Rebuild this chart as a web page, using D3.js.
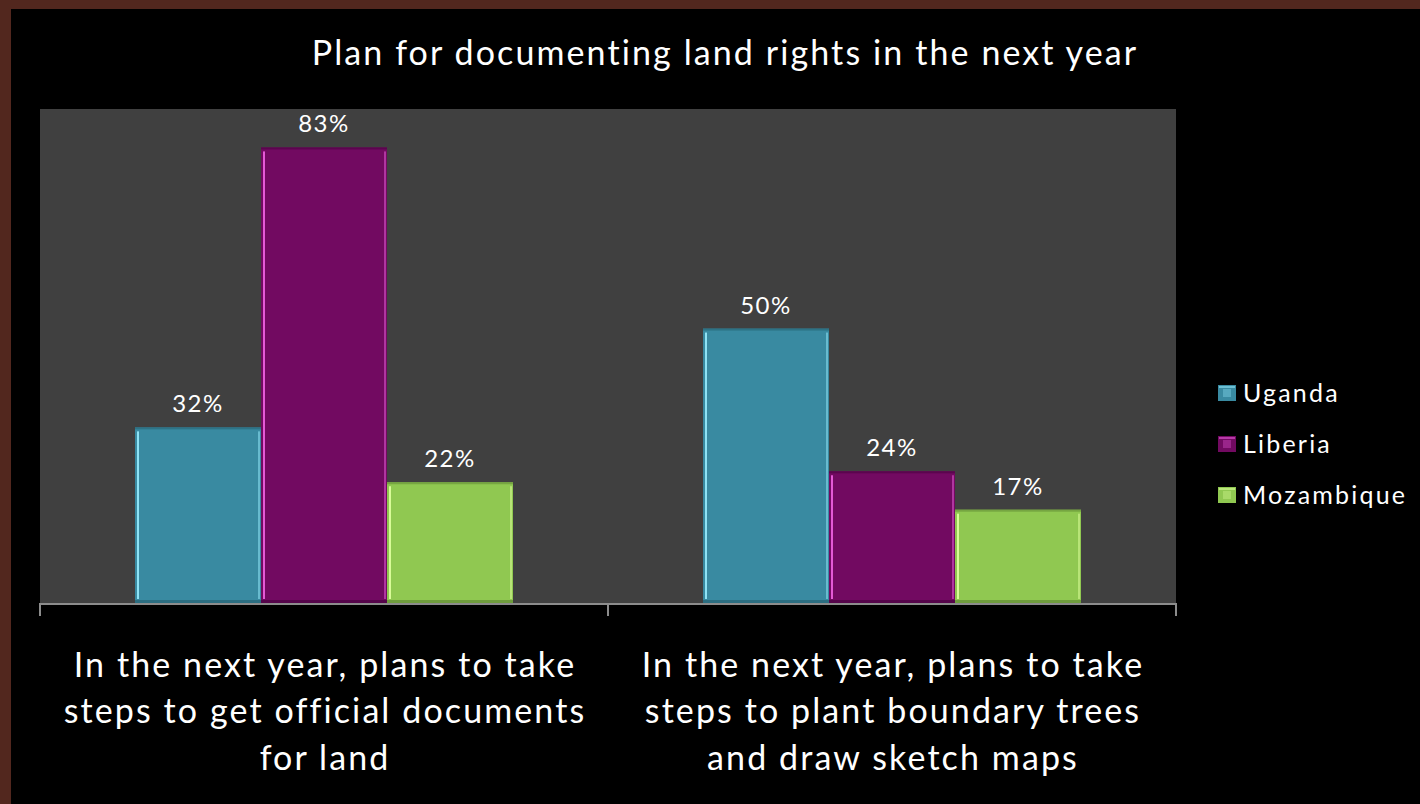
<!DOCTYPE html>
<html>
<head>
<meta charset="utf-8">
<script src="https://cdn.jsdelivr.net/npm/d3@7"></script>
<style>
  html, body { margin: 0; padding: 0; background: #000; }
  svg { display: block; }
  text { font-family: "Lato", "Open Sans", sans-serif; fill: #fff; }
</style>
</head>
<body>
<svg id="chart" width="1420" height="804"></svg>
<script>
// Survey shares by intention and country
const categories = [
  ["In the next year, plans to take", "steps to get official documents", "for land"],
  ["In the next year, plans to take", "steps to plant boundary trees", "and draw sketch maps"]
];
const series = ["Uganda", "Liberia", "Mozambique"];
const uganda = [0.32, 0.50];
const liberia = [0.83, 0.24];
const mozambique = [0.22, 0.17];
const seriesValues = [uganda, liberia, mozambique];
const yMax = 0.9;
const title = "Plan for documenting land rights in the next year";

const colors = { Uganda: "#398aa1", Liberia: "#720a61", Mozambique: "#90c851" };
const lights = { Uganda: "#8fe3f5", Liberia: "#e45ad6", Mozambique: "#d9fb98" };
const darks  = { Uganda: "#2b6d80", Liberia: "#55044a", Mozambique: "#6f9d3d" };

const W = 1420, H = 804;
const plot = { left: 40, right: 1176, top: 109, bottom: 603 };

const svg = d3.select("#chart");

// page frame
svg.append("rect").attr("width", W).attr("height", H).attr("fill", "#52271e");
svg.append("rect").attr("x", 11).attr("y", 9).attr("width", W - 11).attr("height", H - 9).attr("fill", "#000");

// plot background
svg.append("rect")
  .attr("x", plot.left).attr("y", plot.top)
  .attr("width", plot.right - plot.left).attr("height", plot.bottom - plot.top)
  .attr("fill", "#404040");

const catKeys = categories.map((c, i) => i);
const x0 = d3.scaleBand().domain(catKeys).range([plot.left, plot.right]).paddingInner(0).paddingOuter(0);
const x1 = d3.scaleBand().domain(series).range([0, x0.bandwidth()]).paddingInner(0).paddingOuter(0.754);
const y = d3.scaleLinear().domain([0, yMax]).range([plot.bottom, plot.top]);

const rows = [];
series.forEach((s, si) => {
  seriesValues[si].forEach((v, ci) => rows.push({ s, ci, v }));
});

const bars = svg.append("g").selectAll("g").data(rows).join("g")
  .attr("transform", d => `translate(${x0(d.ci) + x1(d.s)},${y(d.v)})`);

bars.append("rect")
  .attr("width", x1.bandwidth())
  .attr("height", d => y(0) - y(d.v))
  .attr("fill", d => colors[d.s]);

// bevel edges
bars.append("rect")
  .attr("x", 0).attr("y", 0)
  .attr("width", x1.bandwidth()).attr("height", 2)
  .attr("fill", d => darks[d.s]).attr("opacity", 0.8);
bars.append("rect")
  .attr("x", 0).attr("y", d => y(0) - y(d.v) - 3)
  .attr("width", x1.bandwidth()).attr("height", 3)
  .attr("fill", d => darks[d.s]);
bars.append("rect")
  .attr("x", 2).attr("y", 4)
  .attr("width", 2).attr("height", d => Math.max(0, y(0) - y(d.v) - 8))
  .attr("fill", d => lights[d.s]);
bars.append("rect")
  .attr("x", d => x1.bandwidth() - 3).attr("y", 4)
  .attr("width", 2).attr("height", d => Math.max(0, y(0) - y(d.v) - 8))
  .attr("fill", d => lights[d.s]).attr("opacity", 0.55);

// value labels
svg.append("g").selectAll("text").data(rows).join("text")
  .attr("x", d => x0(d.ci) + x1(d.s) + x1.bandwidth() / 2)
  .attr("y", d => y(d.v) - 15)
  .attr("text-anchor", "middle")
  .attr("font-size", 24)
  .attr("letter-spacing", 1.5)
  .text(d => d3.format(".0%")(d.v));

// category axis
const axis = d3.axisBottom(x0).tickSize(0).tickFormat("");
const axisG = svg.append("g").attr("transform", `translate(0,${plot.bottom})`).call(axis);
axisG.select(".domain").attr("stroke", "#8c8c8c").attr("stroke-width", 2).attr("d", `M${plot.left},1H${plot.right}`);
const bounds = catKeys.map(k => x0(k)).concat([x0(catKeys[catKeys.length - 1]) + x0.step()]);
axisG.selectAll(".sep").data(bounds).join("line").attr("class", "sep")
  .attr("x1", d => d).attr("x2", d => d).attr("y1", 0).attr("y2", 13)
  .attr("stroke", "#8c8c8c").attr("stroke-width", 2);

// category labels
const lineBase = [677, 723, 770];
svg.append("g").selectAll("text").data(categories).join("text")
  .attr("text-anchor", "middle")
  .attr("font-size", 34)
  .attr("letter-spacing", 2.1)
  .each(function(lines, i) {
    d3.select(this).selectAll("tspan").data(lines).join("tspan")
      .attr("x", x0(i) + x0.bandwidth() / 2 + 1)
      .attr("y", (d, j) => lineBase[j])
      .text(d => d);
  });

// title
svg.append("text")
  .attr("x", 725).attr("y", 65)
  .attr("text-anchor", "middle")
  .attr("font-size", 34)
  .attr("letter-spacing", 2.1)
  .text(title);

// legend
const legend = svg.append("g").selectAll("g").data(series).join("g")
  .attr("transform", (d, i) => `translate(1218,${393 + i * 51})`);
legend.append("rect").attr("x", 0).attr("y", -8).attr("width", 18).attr("height", 16)
  .attr("fill", d => colors[d]);
legend.append("rect").attr("x", 1).attr("y", -7).attr("width", 16).attr("height", 2)
  .attr("fill", d => lights[d]).attr("opacity", 0.6);
legend.append("rect").attr("x", 5).attr("y", -4).attr("width", 8).attr("height", 8)
  .attr("fill", d => lights[d]).attr("opacity", 0.35);
legend.append("text").attr("x", 25).attr("y", 9).attr("font-size", 25).attr("letter-spacing", 2.2).text(d => d);
</script>
</body>
</html>
